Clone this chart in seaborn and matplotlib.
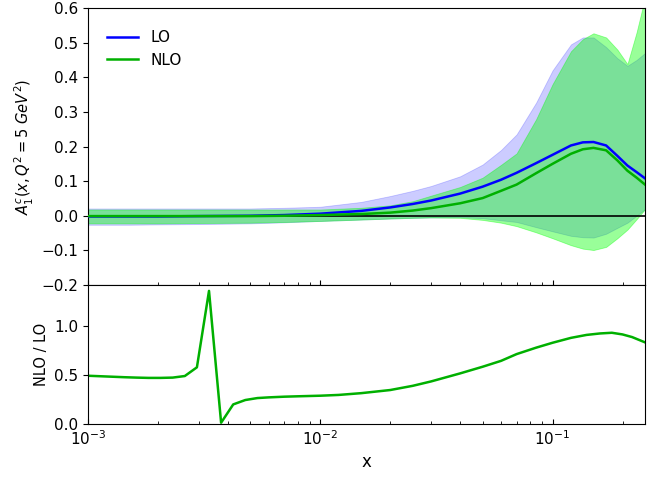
import numpy as np
import pandas as pd
import matplotlib
matplotlib.use("Agg")
import matplotlib.pyplot as plt
import seaborn as sns

# ---- data ----
x_top = [0.001, 0.0015, 0.002, 0.003, 0.005, 0.007, 0.01, 0.015, 0.02, 0.025,
         0.03, 0.04, 0.05, 0.06, 0.07, 0.085, 0.1, 0.12, 0.135, 0.15,
         0.17, 0.19, 0.21, 0.23, 0.25]
lo_central = [-0.002, -0.002, -0.002, -0.001, 0.0, 0.002, 0.006, 0.014, 0.024, 0.034,
              0.044, 0.064, 0.084, 0.104, 0.124, 0.152, 0.176, 0.203, 0.212, 0.213,
              0.203, 0.173, 0.145, 0.126, 0.108]
lo_upper = [0.021, 0.021, 0.021, 0.021, 0.021, 0.023, 0.026, 0.040, 0.057, 0.072,
            0.086, 0.114, 0.148, 0.190, 0.235, 0.327, 0.420, 0.495, 0.515, 0.515,
            0.487, 0.455, 0.433, 0.450, 0.470]
lo_lower = [-0.026, -0.026, -0.025, -0.024, -0.022, -0.019, -0.015, -0.011, -0.008, -0.006,
            -0.005, -0.004, -0.007, -0.013, -0.018, -0.033, -0.045, -0.058, -0.062, -0.063,
            -0.052, -0.035, -0.020, 0.000, 0.019]
nlo_central = [-0.001, -0.001, -0.001, -0.001, -0.001, 0.0, 0.002, 0.005, 0.009, 0.015,
               0.022, 0.036, 0.051, 0.072, 0.090, 0.123, 0.150, 0.179, 0.192, 0.196,
               0.189, 0.160, 0.130, 0.110, 0.090]
nlo_upper = [0.018, 0.018, 0.018, 0.018, 0.018, 0.018, 0.018, 0.023, 0.030, 0.042,
             0.058, 0.083, 0.110, 0.147, 0.180, 0.279, 0.380, 0.475, 0.510, 0.527,
             0.515, 0.480, 0.438, 0.530, 0.630]
nlo_lower = [-0.022, -0.022, -0.022, -0.021, -0.020, -0.018, -0.015, -0.011, -0.008, -0.006,
             -0.005, -0.006, -0.012, -0.020, -0.030, -0.048, -0.065, -0.085, -0.095, -0.099,
             -0.090, -0.065, -0.040, -0.010, 0.019]

x_ratio = [0.001, 0.001127, 0.001271, 0.001433, 0.001616, 0.001822, 0.002054, 0.002316,
           0.002611, 0.002944, 0.003319, 0.003742, 0.004219, 0.004757, 0.005363,
           0.006, 0.007, 0.008, 0.01, 0.012, 0.015, 0.02, 0.025, 0.03, 0.04, 0.05,
           0.06, 0.07, 0.085, 0.1, 0.12, 0.14, 0.16, 0.18, 0.2, 0.22, 0.25]
ratio = [0.493, 0.488, 0.483, 0.478, 0.474, 0.471, 0.471, 0.474,
         0.490, 0.579, 1.360, 0.013, 0.200, 0.245, 0.265,
         0.272, 0.279, 0.283, 0.289, 0.297, 0.315, 0.347, 0.390, 0.435, 0.517, 0.585,
         0.645, 0.714, 0.780, 0.830, 0.880, 0.910, 0.925, 0.932, 0.915, 0.888, 0.834]

labels = ["LO", "NLO"]

# ---- figure ----
fig = plt.figure(figsize=(6.68, 4.80), dpi=100)
ax1 = fig.add_axes([0.1317, 0.40625, 0.8339, 0.57708])
ax2 = fig.add_axes([0.1317, 0.11667, 0.8339, 0.28958], sharex=ax1)

blue = "#0000ff"
green = "#00b000"

ax1.fill_between(x_top, lo_lower, lo_upper, color=(0, 0, 1), alpha=0.2, linewidth=0.6)
ax1.fill_between(x_top, nlo_lower, nlo_upper, color=(0, 1, 0), alpha=0.4, linewidth=0.6)
ax1.axhline(0, color="black", linewidth=1.2, zorder=2)

df_lo = pd.DataFrame({"x": x_top, "y": lo_central})
df_nlo = pd.DataFrame({"x": x_top, "y": nlo_central})
sns.lineplot(data=df_lo, x="x", y="y", ax=ax1, color=blue, linewidth=1.8, label=labels[0], zorder=3)
sns.lineplot(data=df_nlo, x="x", y="y", ax=ax1, color=green, linewidth=1.8, label=labels[1], zorder=3)

df_r = pd.DataFrame({"x": x_ratio, "r": ratio})
sns.lineplot(data=df_r, x="x", y="r", ax=ax2, color=green, linewidth=1.8)

ax1.set_xscale("log")
ax1.set_xlim(1e-3, 0.25)
ax1.set_ylim(-0.2, 0.6)
ax1.set_yticks([-0.2, -0.1, 0.0, 0.1, 0.2, 0.3, 0.4, 0.5, 0.6])
ax1.set_ylabel(r"$A_1^c(x, Q^2 = 5\ GeV^2)$", fontsize=10.5)
ax1.set_xlabel("")
ax1.tick_params(axis="x", which="both", direction="in", labelbottom=False)
ax1.tick_params(axis="y", labelsize=11)

ax2.set_ylim(0.0, 1.42)
ax2.set_yticks([0.0, 0.5, 1.0])
ax2.set_ylabel("NLO / LO", fontsize=10.5)
ax2.set_xlabel("x", fontsize=12)
ax2.tick_params(axis="x", which="both", direction="in", labelsize=11)
ax2.tick_params(axis="y", labelsize=11)

leg = ax1.legend(loc="upper left", frameon=False, fontsize=11,
                 bbox_to_anchor=(0.01, 0.97), handlelength=2.0)

fig.savefig("out.png", dpi=100)
